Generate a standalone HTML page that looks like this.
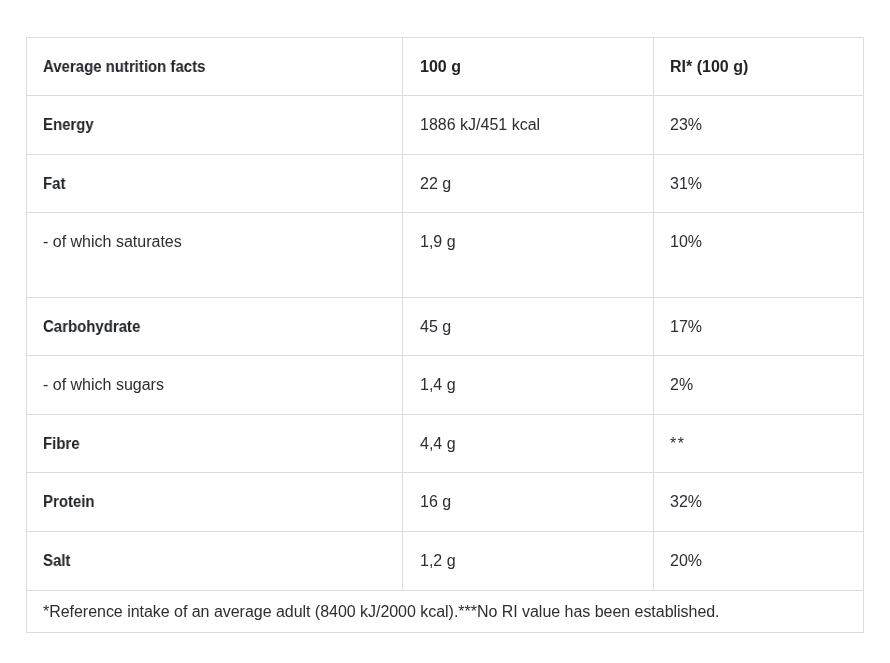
<!DOCTYPE html>
<html><head><meta charset="utf-8"><style>
html,body{margin:0;padding:0;background:#fff;width:890px;height:663px;overflow:hidden;position:relative}
.l{position:absolute;background:#dddddd}
.t{position:absolute;font-family:"Liberation Sans",sans-serif;font-size:16px;line-height:26px;height:26px;color:#212529;will-change:transform;white-space:nowrap}
.r{color:#2b2f33}
.b{font-weight:bold}
.s{transform:scaleX(0.935);transform-origin:0 50%}
</style></head><body>
<div class="l" style="left:26px;top:37px;width:838px;height:1px"></div>
<div class="l" style="left:26px;top:632px;width:838px;height:1px"></div>
<div class="l" style="left:26px;top:37px;width:1px;height:596px"></div>
<div class="l" style="left:863px;top:37px;width:1px;height:596px"></div>
<div class="l" style="left:26px;top:95px;width:838px;height:1px"></div>
<div class="l" style="left:26px;top:154px;width:838px;height:1px"></div>
<div class="l" style="left:26px;top:212px;width:838px;height:1px"></div>
<div class="l" style="left:26px;top:297px;width:838px;height:1px"></div>
<div class="l" style="left:26px;top:355px;width:838px;height:1px"></div>
<div class="l" style="left:26px;top:414px;width:838px;height:1px"></div>
<div class="l" style="left:26px;top:472px;width:838px;height:1px"></div>
<div class="l" style="left:26px;top:531px;width:838px;height:1px"></div>
<div class="l" style="left:26px;top:590px;width:838px;height:1px"></div>
<div class="l" style="left:402px;top:37px;width:1px;height:554px"></div>
<div class="l" style="left:653px;top:37px;width:1px;height:554px"></div>
<div class="t b s" style="left:43px;top:53.5px">Average nutrition facts</div>
<div class="t b" style="left:420px;top:53.5px">100 g</div>
<div class="t b" style="left:670px;top:53.5px">RI* (100 g)</div>
<div class="t b s" style="left:43px;top:112.0px">Energy</div>
<div class="t r" style="left:420px;top:112.0px">1886 kJ/451 kcal</div>
<div class="t r" style="left:670px;top:112.0px">23%</div>
<div class="t b s" style="left:43px;top:170.5px">Fat</div>
<div class="t r" style="left:420px;top:170.5px">22 g</div>
<div class="t r" style="left:670px;top:170.5px">31%</div>
<div class="t r" style="left:43px;top:228.5px">- of which saturates</div>
<div class="t r" style="left:420px;top:228.5px">1,9 g</div>
<div class="t r" style="left:670px;top:228.5px">10%</div>
<div class="t b s" style="left:43px;top:313.5px">Carbohydrate</div>
<div class="t r" style="left:420px;top:313.5px">45 g</div>
<div class="t r" style="left:670px;top:313.5px">17%</div>
<div class="t r" style="left:43px;top:372.0px">- of which sugars</div>
<div class="t r" style="left:420px;top:372.0px">1,4 g</div>
<div class="t r" style="left:670px;top:372.0px">2%</div>
<div class="t b s" style="left:43px;top:430.5px">Fibre</div>
<div class="t r" style="left:420px;top:430.5px">4,4 g</div>
<div class="t r" style="left:670px;top:430.5px"><span style="letter-spacing:1.5px">**</span></div>
<div class="t b s" style="left:43px;top:489.0px">Protein</div>
<div class="t r" style="left:420px;top:489.0px">16 g</div>
<div class="t r" style="left:670px;top:489.0px">32%</div>
<div class="t b s" style="left:43px;top:548.0px">Salt</div>
<div class="t r" style="left:420px;top:548.0px">1,2 g</div>
<div class="t r" style="left:670px;top:548.0px">20%</div>
<div class="t r" style="letter-spacing:-0.032px;left:43px;top:598.5px">*Reference intake of an average adult (8400 kJ/2000 kcal).***No RI value has been established.</div>
</body></html>
